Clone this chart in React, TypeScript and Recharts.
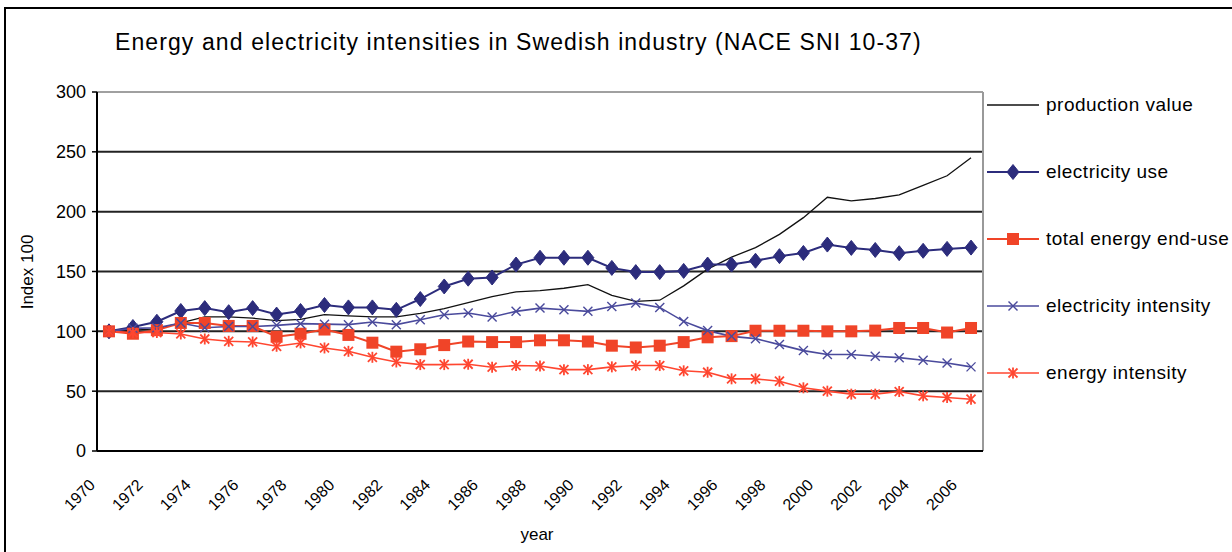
import React from 'react';
import {
  LineChart,
  Line,
  XAxis,
  YAxis,
  CartesianGrid,
  ReferenceLine,
} from 'recharts';

const years = [
  1970, 1971, 1972, 1973, 1974, 1975, 1976, 1977, 1978, 1979,
  1980, 1981, 1982, 1983, 1984, 1985, 1986, 1987, 1988, 1989,
  1990, 1991, 1992, 1993, 1994, 1995, 1996, 1997, 1998, 1999,
  2000, 2001, 2002, 2003, 2004, 2005, 2006,
];

const productionValue = [
  100, 101, 102, 107, 112, 112, 111, 109, 110, 114,
  113, 112, 112, 115, 119, 124, 129, 133, 134, 136,
  139, 130, 125, 126, 138, 152, 162, 170, 181, 195,
  212, 209, 211, 214, 222, 230, 245,
];

const electricityUse = [
  100, 103.6, 108, 117, 119.4, 116, 119.4, 114, 117, 122,
  120, 120, 118, 127, 137.5, 144, 145, 155.8, 161.5, 161.5,
  161.5, 153, 149.5, 149.5, 150.5, 155.8, 155.8, 159, 162.8, 165.5,
  172.5, 169.7, 168, 165.3, 167.3, 168.9, 170,
];

const totalEnergyEndUse = [
  100, 98, 101, 107, 107, 104.5, 104.5, 95.5, 98, 101.5,
  97, 90.5, 83, 85, 88.5, 91.5, 91, 91, 92.5, 92.5,
  91.5, 88, 86.5, 88, 91, 95, 96, 100.5, 100.5, 100.5,
  100, 100, 100.6, 102.8, 102.8, 99, 102.8,
];

const electricityIntensity = [
  100, 102.5, 103, 107, 103, 104, 104, 105, 106.4, 106,
  105.6, 107.8, 105.6, 109.7, 113.9, 115.3, 112, 116.7, 119.4, 118,
  116.7, 120.8, 123.6, 120, 108.3, 100.6, 95.8, 93.9, 88.9, 83.9,
  80.6, 80.6, 79.2, 78, 75.8, 73.6, 70.3,
];

const energyIntensity = [
  100, 99, 99, 97.8, 93.6, 91.7, 91.1, 87.5, 90.3, 86.1,
  83.3, 78.3, 74.4, 72.2, 72.2, 72.5, 70, 71.4, 71, 68,
  68, 70.3, 71.4, 71.4, 67, 65.8, 60.3, 60.3, 58.3, 52.8,
  50, 47.5, 47.5, 49.7, 46.1, 44.7, 43.3,
];

const yTicks = [0, 50, 100, 150, 200, 250, 300];
const labelYears = [
  1970, 1972, 1974, 1976, 1978, 1980, 1982, 1984, 1986, 1988,
  1990, 1992, 1994, 1996, 1998, 2000, 2002, 2004, 2006,
];

const FONT = '"Liberation Sans", Arial, sans-serif';

type MarkerKind = 'none' | 'diamond' | 'square' | 'cross' | 'star';

const series: { key: string; name: string; color: string; width: number; marker: MarkerKind }[] = [
  { key: 'production', name: 'production value', color: '#111111', width: 1.3, marker: 'none' },
  { key: 'elecUse', name: 'electricity use', color: '#2c2c7c', width: 2, marker: 'diamond' },
  { key: 'energyUse', name: 'total energy end-use', color: '#f04428', width: 2, marker: 'square' },
  { key: 'elecInt', name: 'electricity intensity', color: '#4a4a9c', width: 1.6, marker: 'cross' },
  { key: 'energyInt', name: 'energy intensity', color: '#ff4630', width: 1.6, marker: 'star' },
];

const data = years.map((year, i) => ({
  year,
  production: productionValue[i],
  elecUse: electricityUse[i],
  energyUse: totalEnergyEndUse[i],
  elecInt: electricityIntensity[i],
  energyInt: energyIntensity[i],
}));

// tick marks sit between the yearly categories, like the Excel axis
const edgeTicks = [...years.map((y) => y - 0.5), years[years.length - 1] + 0.5];
const xDomain = [edgeTicks[0], edgeTicks[edgeTicks.length - 1]];

function Marker({ kind, cx, cy, color }: { kind: MarkerKind; cx: number; cy: number; color: string }) {
  if (kind === 'diamond') {
    return (
      <polygon
        points={`${cx},${cy - 7.5} ${cx + 6},${cy} ${cx},${cy + 7.5} ${cx - 6},${cy}`}
        fill={color}
        stroke={color}
      />
    );
  }
  if (kind === 'square') {
    return <rect x={cx - 6} y={cy - 6} width={12} height={12} fill={color} />;
  }
  if (kind === 'cross') {
    return (
      <g stroke={color} strokeWidth={1.4}>
        <line x1={cx - 4.5} y1={cy - 4.5} x2={cx + 4.5} y2={cy + 4.5} />
        <line x1={cx - 4.5} y1={cy + 4.5} x2={cx + 4.5} y2={cy - 4.5} />
      </g>
    );
  }
  if (kind === 'star') {
    return (
      <g stroke={color} strokeWidth={1.8}>
        <line x1={cx - 4.5} y1={cy - 4.5} x2={cx + 4.5} y2={cy + 4.5} />
        <line x1={cx - 4.5} y1={cy + 4.5} x2={cx + 4.5} y2={cy - 4.5} />
        <line x1={cx} y1={cy - 5.5} x2={cx} y2={cy + 5.5} />
      </g>
    );
  }
  return null;
}

function YearTick(props: any) {
  const { x, y, payload } = props;
  const ax = x - 13;
  const ay = y + 34;
  return (
    <text
      x={ax}
      y={ay}
      textAnchor="end"
      fontSize={16}
      fontFamily={FONT}
      fill="#000"
      stroke="none"
      transform={`rotate(-45, ${ax}, ${ay})`}
    >
      {payload.value}
    </text>
  );
}

function LegendBox() {
  return (
    <div style={{ fontFamily: FONT, fontSize: 19, letterSpacing: 0.5, color: '#000' }}>
      {series.map((s, i) => (
        <div
          key={s.key}
          style={{ display: 'flex', alignItems: 'center', height: 26, marginTop: i === 0 ? 0 : 41, whiteSpace: 'nowrap' }}
        >
          <svg width={56} height={26} style={{ flex: 'none' }}>
            <line x1={2} y1={13} x2={54} y2={13} stroke={s.color} strokeWidth={s.width} />
            <Marker kind={s.marker} cx={28} cy={13} color={s.color} />
          </svg>
          <span style={{ marginLeft: 5 }}>{s.name}</span>
        </div>
      ))}
    </div>
  );
}

export default function App() {
  return (
    <div
      style={{
        position: 'absolute',
        left: 0,
        top: 0,
        width: 1232,
        height: 552,
        overflow: 'hidden',
        background: '#fff',
        fontFamily: FONT,
      }}
    >
      <div
        style={{
          position: 'absolute',
          left: 4,
          top: 7,
          width: 1400,
          height: 700,
          borderLeft: '2px solid #000',
          borderTop: '2px solid #000',
        }}
      />
      <div
        style={{
          position: 'absolute',
          left: 115,
          top: 29,
          fontSize: 23,
          letterSpacing: 1.1,
          lineHeight: '26px',
          whiteSpace: 'nowrap',
        }}
      >
        Energy and electricity intensities in Swedish industry (NACE SNI 10-37)
      </div>
      <div
        style={{
          position: 'absolute',
          left: 28,
          top: 272,
          fontSize: 17,
          whiteSpace: 'nowrap',
          transform: 'translate(-50%, -50%) rotate(-90deg)',
        }}
      >
        Index 100
      </div>
      <div
        style={{
          position: 'absolute',
          left: 537,
          top: 535,
          fontSize: 17,
          transform: 'translate(-50%, -50%)',
        }}
      >
        year
      </div>
      <div style={{ position: 'absolute', left: 0, top: 0 }}>
        <LineChart
          width={1232}
          height={552}
          data={data}
          margin={{ top: 92, right: 249, bottom: 99, left: 37 }}
        >
          <CartesianGrid vertical={false} stroke="#222" strokeWidth={2} />
          <XAxis
            dataKey="year"
            type="number"
            domain={xDomain}
            ticks={edgeTicks}
            tick={false}
            tickSize={5}
            tickLine={{ stroke: '#000', strokeWidth: 1.5 }}
            axisLine={{ stroke: '#000', strokeWidth: 2 }}
            height={1}
          />
          <XAxis
            xAxisId="labels"
            dataKey="year"
            type="number"
            domain={xDomain}
            ticks={labelYears}
            interval={0}
            tick={<YearTick />}
            tickSize={0}
            tickMargin={0}
            tickLine={false}
            axisLine={false}
            height={1}
          />
          <YAxis
            domain={[0, 300]}
            ticks={yTicks}
            width={60}
            tickSize={5}
            tickMargin={6}
            tick={{ fontSize: 18, fill: '#000', fontFamily: FONT }}
            tickLine={{ stroke: '#000', strokeWidth: 1.5 }}
            axisLine={{ stroke: '#000', strokeWidth: 2 }}
          />
          <ReferenceLine y={300} stroke="#a0a0a0" strokeWidth={2} />
          <ReferenceLine x={xDomain[1]} stroke="#999" strokeWidth={2} />
          {series.map((s) => (
            <Line
              key={s.key}
              dataKey={s.key}
              name={s.name}
              type="linear"
              stroke={s.color}
              strokeWidth={s.width}
              isAnimationActive={false}
              activeDot={false}
              dot={
                s.marker === 'none'
                  ? false
                  : (p: any) => <Marker key={`${s.key}-${p.index}`} kind={s.marker} cx={p.cx} cy={p.cy} color={s.color} />
              }
            />
          ))}
        </LineChart>
      </div>
      <div style={{ position: 'absolute', left: 985, top: 92 }}>
        <LegendBox />
      </div>
    </div>
  );
}
